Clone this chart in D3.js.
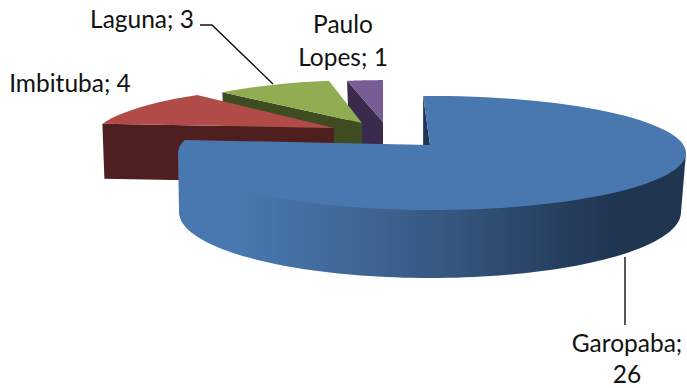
<!DOCTYPE html>
<html><head><meta charset="utf-8">
<script src="https://cdn.jsdelivr.net/npm/d3@7"></script>
<style>html,body{margin:0;background:#fff}svg{display:block}text{font-family:Lato,"Open Sans",sans-serif;font-size:24.5px;fill:#111}</style>
</head><body><svg id="c" width="687" height="388"></svg>
<script>
const categories=["Garopaba","Imbituba","Laguna","Paulo Lopes"];
const values=[26,4,3,1];
const topColors=["#4878af","#b04b47","#90ad52","#775d96"];
const wallColors=["#1f3550","#4f1f1f","#3f4c22","#3a2a4c"];

// Perspective layout of each exploded slice (not data)
const layout=[
 {cx:432,cy:153,apex:[430,145],r:1,   s:[-2,8],  depth:0},
 {cx:334,cy:140,apex:[334,128],r:.955,s:[12,8],  depth:55},
 {cx:370,cy:130,apex:[362,123],r:.88, s:[1,0],   depth:55},
 {cx:383,cy:124,apex:[383,122],r:.77, s:[0,0],   depth:55}
];
const RX=254,RY=57;
const svg=d3.select("#c");
const rad=d=>d*Math.PI/180;
const line=d3.line();
const slices=d3.pie().sort(null).startAngle(0).endAngle(2*Math.PI)(values);

const grad=svg.append("defs").append("linearGradient").attr("id","wall");
[[0,"#4878af"],[.12,"#4878af"],[.35,"#3f6795"],[.55,"#34557d"],[.75,"#263f5f"],[.88,"#1f3550"],[1,"#203650"]]
 .forEach(([o,c])=>grad.append("stop").attr("offset",o).attr("stop-color",c));

const rim=(l,t)=>[l.cx+l.r*RX*Math.sin(rad(t)),l.cy-l.r*RY*Math.cos(rad(t))];
const deg=(i)=>{const p=slices[i],l=layout[i];
  return d3.scaleLinear().domain([0,1]).range([p.startAngle*180/Math.PI+l.s[0],p.endAngle*180/Math.PI+l.s[1]]);};

// exploded small slices, back to front
[3,2,1].forEach(i=>{
  const l=layout[i],T=deg(i),d=l.depth;
  const a=rim(l,T(0));
  svg.append("path").attr("fill",wallColors[i])
    .attr("d",line([a,l.apex,[l.apex[0],l.apex[1]+d],[a[0]+2,a[1]+d]])+"Z");
  const pts=d3.range(0,1.001,.04).map(f=>rim(l,T(f)));
  svg.append("path").attr("fill",topColors[i]).attr("d",line([l.apex,...pts])+"Z");
});

// large slice: inner cut sliver, outer wall, top
const l0=layout[0],T0=deg(0);
const start=rim(l0,T0(0));
svg.append("path").attr("fill","#1f3550").attr("d",line([start,[start[0],l0.apex[1]],l0.apex])+"Z");
// wall runs 2px up under the top face so no seam shows through
const topArc=d3.range(92,271,2).map(t=>{const p=rim(l0,t);return [p[0],p[1]-2];});
const bot=t=>[430+251*Math.sin(rad(t)),212+66*-Math.cos(rad(t))];
const botArc=d3.range(270,89,-2).map(bot);
svg.append("path").attr("fill","url(#wall)").attr("d",line([rim(l0,90),...topArc,...botArc])+"Z");
const pts0=d3.range(0,1.0001,.01).map(f=>rim(l0,T0(f)));
svg.append("path").attr("fill",topColors[0]).attr("d",line([l0.apex,...pts0])+"Z");

// leaders
const leaders=[[[200,25],[212,25],[273,84]],[[625,257],[625,325]]];
leaders.forEach(p=>svg.append("path").attr("fill","none").attr("stroke","#111").attr("stroke-width",1.4).attr("d",line(p)));

// labels
const labels=[
 {l:[categories[2]+"; "+values[2]],x:142,y:[28]},
 {l:[categories[1]+"; "+values[1]],x:70,y:[92]},
 {l:["Paulo","Lopes; "+values[3]],x:343,y:[33,66]},
 {l:[categories[0]+";",""+values[0]],x:627,y:[352,383]}
];
labels.forEach(d=>d.l.forEach((s,i)=>svg.append("text").attr("x",d.x).attr("y",d.y[i]).attr("text-anchor","middle").text(s)));
</script></body></html>
